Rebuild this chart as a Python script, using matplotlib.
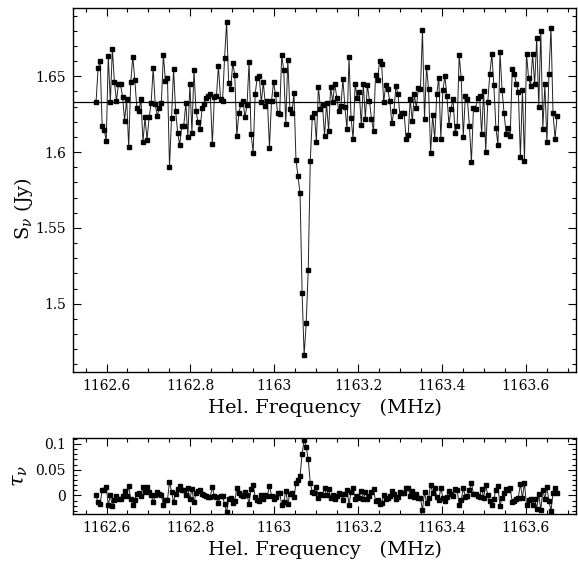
import matplotlib
matplotlib.use("Agg")
import matplotlib.pyplot as plt
import numpy as np
from matplotlib.ticker import MultipleLocator

plt.rcParams["font.family"] = "DejaVu Serif"
plt.rcParams["mathtext.fontset"] = "dejavuserif"

# flux density per channel (Jy)
flux = np.array([
    1.6333, 1.6553, 1.6602, 1.6169, 1.6147, 1.6073, 1.6636, 1.6327, 1.6680, 1.6462,
    1.6340, 1.6447, 1.6447, 1.6362, 1.6207, 1.6349, 1.6033, 1.6460, 1.6629, 1.6476,
    1.6291, 1.6269, 1.6349, 1.6067, 1.6229, 1.6080, 1.6229, 1.6322, 1.6553, 1.6318,
    1.6236, 1.6291, 1.6322, 1.6640, 1.6469, 1.6491, 1.5900, 1.6224, 1.6547, 1.6273,
    1.6129, 1.6047, 1.6169, 1.6173, 1.6322, 1.6102, 1.6449, 1.6129, 1.6544, 1.6269,
    1.6196, 1.6151, 1.6293, 1.6320, 1.6358, 1.6367, 1.6380, 1.6053, 1.6362, 1.6367,
    1.6569, 1.6351, 1.6336, 1.6620, 1.6860, 1.6453, 1.6418, 1.6587, 1.6509, 1.6109,
    1.6256,
    1.6318, 1.6336, 1.6229, 1.6309, 1.6593, 1.6120, 1.5996, 1.6384, 1.6491, 1.6500,
    1.6327, 1.6460, 1.6307, 1.6336, 1.6029, 1.6336, 1.6460, 1.6380, 1.6260, 1.6253,
    1.6638, 1.6540, 1.6187, 1.6609, 1.6282, 1.6260, 1.6389, 1.5947, 1.5840, 1.5727,
    1.5070, 1.4660, 1.4870, 1.5220,
    1.5940, 1.6233, 1.6258, 1.6067, 1.6429, 1.6282, 1.6309, 1.6107, 1.6322, 1.6138,
    1.6429, 1.6333, 1.6451, 1.6358, 1.6269, 1.6302, 1.6480, 1.6296, 1.6153, 1.6624,
    1.6224, 1.6087, 1.6451, 1.6358, 1.6398, 1.6180, 1.6451, 1.6220, 1.6442, 1.6340,
    1.6220, 1.6140, 1.6507, 1.6478, 1.6602, 1.6580, 1.6331, 1.6442, 1.6413, 1.6336,
    1.6189, 1.6273, 1.6438, 1.6380, 1.6236, 1.6260, 1.6258, 1.6087,
    1.6113, 1.6353, 1.6202, 1.6380, 1.6291, 1.6424, 1.6413, 1.6802, 1.6218, 1.6562,
    1.6413, 1.5996, 1.6247, 1.6087, 1.6380, 1.6491, 1.6087, 1.6407, 1.6500, 1.6367,
    1.6180, 1.6287, 1.6347, 1.6127, 1.6173, 1.6640, 1.6487, 1.6102, 1.6367, 1.6353,
    1.6171, 1.5936, 1.6291, 1.6282, 1.6358, 1.6367, 1.6118, 1.6402, 1.6002, 1.6327,
    1.6513, 1.6647, 1.6440, 1.6158, 1.6047, 1.6660, 1.6411, 1.6256, 1.6122, 1.6162,
    1.6104, 1.6547, 1.6518, 1.6447, 1.6398, 1.5967, 1.6407, 1.5940, 1.6647, 1.6491,
    1.6438, 1.6647, 1.6447, 1.6753, 1.6300, 1.6798, 1.6153, 1.6447, 1.6064, 1.6513,
    1.6820, 1.6256, 1.6087, 1.6240,
])
freq_first = 1162.575
freq_last = 1163.675
freq = np.linspace(freq_first, freq_last, len(flux))
continuum = 1.6333
tau = -np.log(flux / continuum)

x_ticks = [1162.6, 1162.8, 1163.0, 1163.2, 1163.4, 1163.6]
x_labels = ["1162.6", "1162.8", "1163", "1163.2", "1163.4", "1163.6"]
s_ticks = [1.5, 1.55, 1.6, 1.65]
s_labels = ["1.5", "1.55", "1.6", "1.65"]
t_ticks = [0, 0.05, 0.1]
t_labels = ["0", "0.05", "0.1"]

fig = plt.figure(figsize=(5.78, 5.63), dpi=100)
ax1 = fig.add_axes([0.1263, 0.3393, 0.8702, 0.6465])
ax2 = fig.add_axes([0.1263, 0.0870, 0.8702, 0.1355])


def style(ax):
    ax.set_xlim(1162.52, 1163.72)
    ax.set_xticks(x_ticks)
    ax.set_xticklabels(x_labels)
    ax.xaxis.set_minor_locator(MultipleLocator(0.05))
    ax.tick_params(which="both", direction="in", top=True, right=True,
                   labelsize=10, width=0.8, pad=5)
    ax.tick_params(which="major", length=6)
    ax.tick_params(which="minor", length=3)
    for s in ax.spines.values():
        s.set_linewidth(1.0)
    ax.set_xlabel("Hel. Frequency   (MHz)", fontsize=14, labelpad=4)


ax1.plot(freq, flux, color="#222222", lw=0.7, marker="s", ms=2.5,
         mfc="black", mec="black")
ax1.axhline(continuum, color="black", lw=0.9)
style(ax1)
ax1.set_ylim(1.455, 1.695)
ax1.set_yticks(s_ticks)
ax1.set_yticklabels(s_labels)
ax1.yaxis.set_minor_locator(MultipleLocator(0.01))
ax1.set_ylabel(r"S$_\nu$ (Jy)", fontsize=14)
ax1.yaxis.set_label_coords(-0.075, 0.45)

ax2.plot(freq, tau, color="#222222", lw=0.7, marker="s", ms=2.5,
         mfc="black", mec="black")
style(ax2)
ax2.set_ylim(-0.036, 0.112)
ax2.set_yticks(t_ticks)
ax2.set_yticklabels(t_labels)
ax2.yaxis.set_minor_locator(MultipleLocator(0.01))
ax2.set_ylabel(r"$\tau_\nu$", fontsize=15)
ax2.yaxis.set_label_coords(-0.085, 0.5)

fig.savefig("out.png", dpi=100)
